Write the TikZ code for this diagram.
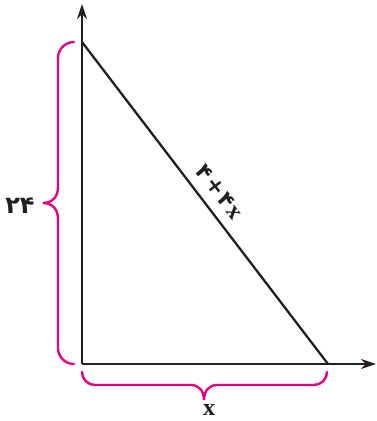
\documentclass[tikz,border=0pt]{standalone}
\usepackage{fontspec}
\usetikzlibrary{arrows.meta}
\newfontfamily\fafont[Script=Arabic]{DejaVu Sans}
\newfontfamily\xfont{Liberation Serif}
\definecolor{brmag}{RGB}{230,0,126}
\definecolor{ink}{RGB}{35,31,32}
\begin{document}
\begin{tikzpicture}[x=1pt,y=-1pt,
  axisline/.style={line width=2.3pt,draw=ink,-{Stealth[length=15pt,width=10pt]}},
  sideline/.style={line width=2.3pt,draw=ink},
  bracestyle/.style={line width=2.4pt,draw=brmag,line cap=round},
  falabel/.style={font=\fafont\bfseries\fontsize{22}{26}\selectfont,text=ink},
  xlabel/.style={font=\xfont\bfseries\fontsize{24}{28}\selectfont,text=ink}]
\useasboundingbox (0,0) rectangle (376,421);
\coordinate (O) at (82,364);
\coordinate (A) at (82,42);
\coordinate (B) at (328,364);
\coordinate (ytip) at (82,4);
\coordinate (xtip) at (376,364);
% axes
\draw[axisline] (O) -- (ytip);
\draw[axisline] (O) -- (xtip);
% hypotenuse
\draw[sideline] (A) -- node[pos=0.5,sloped,above=10pt,falabel,inner sep=0pt] (hyp)
  {۴\hspace{2pt}+\hspace{2pt}۴\hspace{1pt}{\xfont\bfseries\fontsize{24}{28}\selectfont x}} (B);
% left brace
\draw[bracestyle] (74,42) arc[start angle=270,end angle=180,radius=16] -- (58,187)
  .. controls (58,197) and (52,203) .. (43,203)
  .. controls (52,203) and (58,209) .. (58,219)
  -- (58,348) arc[start angle=180,end angle=90,radius=16];
% bottom brace
\draw[bracestyle] (82,372) arc[start angle=180,end angle=90,radius=13] -- (191,385)
  .. controls (199,385) and (204,391) .. (204,400)
  .. controls (204,391) and (209,385) .. (217,385)
  -- (314,385) arc[start angle=90,end angle=0,radius=13];
% labels
\node[falabel,font=\fafont\bfseries\fontsize{24}{28}\selectfont] (lab24) at (20,206) {۲۴};
\node[xlabel,inner sep=0pt] (labx) at (209,410) {x};
\end{tikzpicture}
\end{document}
